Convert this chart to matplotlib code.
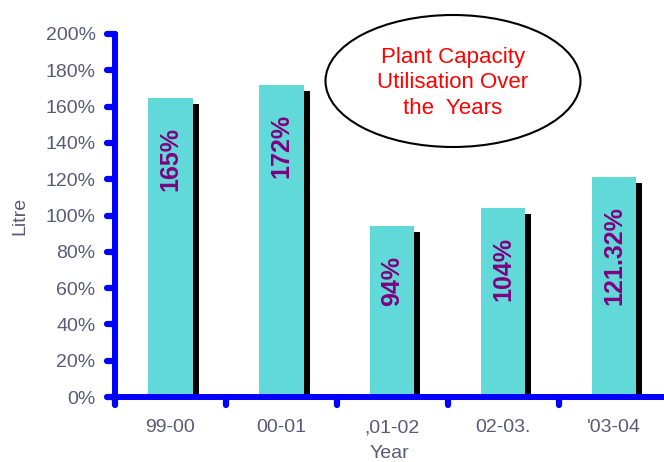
import matplotlib
matplotlib.use("Agg")
import matplotlib.pyplot as plt
from matplotlib.patches import Ellipse
from matplotlib.markers import MarkerStyle, TICKLEFT, TICKDOWN
from matplotlib.ticker import FixedLocator, FuncFormatter
import numpy as np

plt.rcParams['font.family'] = ['Liberation Sans', 'DejaVu Sans']

# datos del grafico
years = ["99-00", "00-01", ",01-02", "02-03.", "'03-04"]
utilisation = [165, 172, 94, 104, 121.32]
etiquetas = ["165%", "172%", "94%", "104%", "121.32%"]

gris = '#5a5a78'
azul = '#0000ff'

fig = plt.figure(figsize=(6.64, 4.62), dpi=100)
ax = fig.add_axes([115 / 664, 1 - 397 / 462, 549 / 664, (397 - 34) / 462])

x = np.arange(len(years))
# sombra negra detras de cada barra
ax.bar(x + 0.054, np.array(utilisation) - 3.3, width=0.4, color='black', zorder=1)
ax.bar(x, utilisation, width=0.4, color='#62d9d9', zorder=2)

for xi, v, txt in zip(x, utilisation, etiquetas):
    ax.annotate(txt, (xi, v), xytext=(0, -21), textcoords='offset points',
                rotation=90, ha='center', va='top', fontsize=18,
                fontweight='bold', color='#800080', zorder=3)

ax.set_xlim(-0.5, 4.45)
ax.set_ylim(0, 200)

ax.yaxis.set_major_locator(FixedLocator(np.arange(0, 201, 20)))
ax.yaxis.set_major_formatter(FuncFormatter(lambda v, p: f"{v:.0f}%"))
ax.xaxis.set_major_locator(FixedLocator(np.arange(-0.5, 4.6, 1.0)))
ax.xaxis.set_major_formatter(FuncFormatter(lambda v, p: ""))
ax.xaxis.set_minor_locator(FixedLocator(x))
ax.set_xticklabels(years, minor=True)

for s in ['top', 'right']:
    ax.spines[s].set_visible(False)
for s in ['left', 'bottom']:
    ax.spines[s].set_color(azul)
    ax.spines[s].set_linewidth(4.3)
    ax.spines[s].set_capstyle('round')

ax.tick_params(axis='y', colors=azul, width=4.5, length=6, labelsize=14,
               labelcolor=gris, pad=8)
ax.tick_params(axis='x', which='major', colors=azul, width=4.5, length=6)
ax.tick_params(axis='x', which='minor', length=0, labelsize=14,
               labelcolor=gris, pad=16)

fig.canvas.draw()
for t in ax.yaxis.get_major_ticks():
    t.tick1line.set_marker(MarkerStyle(TICKLEFT, capstyle='round'))
for t in ax.xaxis.get_major_ticks():
    t.tick1line.set_marker(MarkerStyle(TICKDOWN, capstyle='round'))

ax.set_xlabel("Year", fontsize=14, color=gris, labelpad=6)
ax.set_ylabel("Litre", fontsize=14, color=gris, labelpad=12)

# elipse con el titulo
elipse = Ellipse((453 / 664, 1 - 81 / 462), 255 / 664, 132 / 462,
                 transform=fig.transFigure, facecolor='white',
                 edgecolor='black', linewidth=1.5, zorder=5)
fig.patches.append(elipse)
fig.text(453 / 664, 1 - 83 / 462, "Plant Capacity\nUtilisation Over\nthe  Years",
         ha='center', va='center', fontsize=16, color='red',
         linespacing=1.3, zorder=6)

fig.savefig("out.png", dpi=100)
